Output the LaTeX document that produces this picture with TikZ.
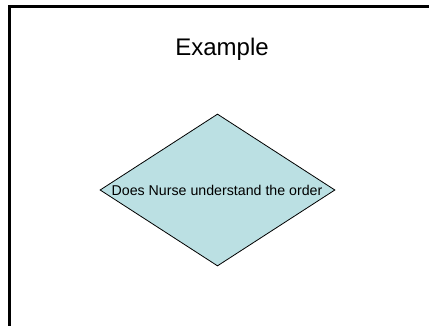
\documentclass[tikz,border=0pt]{standalone}
\usepackage{fontspec}
\setmainfont{Liberation Sans}
\usetikzlibrary{shapes.geometric}
\definecolor{decfill}{HTML}{BBE0E3}
\begin{document}
\begin{tikzpicture}[x=1pt,y=1pt,
  decision/.style={diamond,draw=black,line width=0.8pt,fill=decfill,inner sep=0pt,minimum width=235pt,minimum height=152pt},
  frameline/.style={line width=3pt,line cap=rect,line join=miter}]
\useasboundingbox (0,0) rectangle (429,325);
\fill[white] (0,0) rectangle (429,325);
\coordinate (fb) at (9.5,0);
\coordinate (fc) at (9.5,318.5);
\coordinate (fr) at (429,318.5);
\draw[frameline] (fb) -- (fc) -- (fr);
\node[anchor=base,font=\fontsize{24}{28}\selectfont] (title) at (222,270) {Example};
\node[decision] (d) at (217.5,135) {};
\node[anchor=base,font=\fontsize{14.2}{16}\selectfont,inner sep=0pt] (q) at (217,130) {Does Nurse understand the order};
\end{tikzpicture}
\end{document}
